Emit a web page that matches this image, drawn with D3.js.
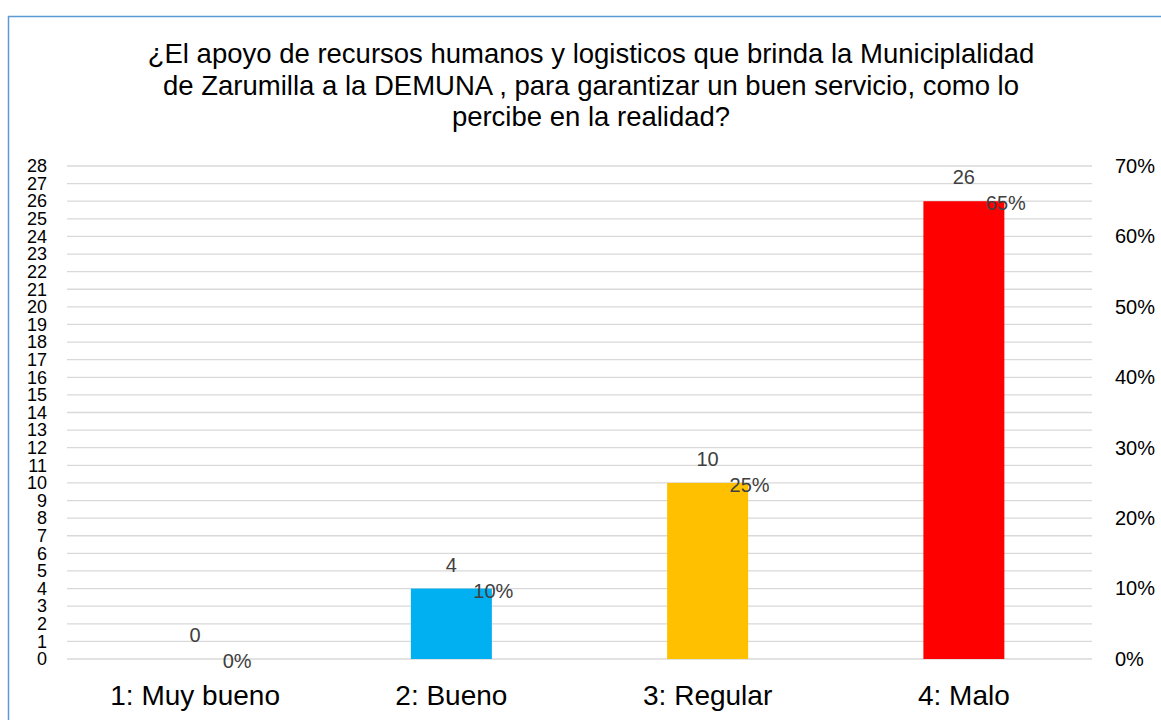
<!DOCTYPE html>
<html>
<head>
<meta charset="utf-8">
<script src="https://cdn.jsdelivr.net/npm/d3@7"></script>
<style>
  body { margin: 0; background: #fff; }
  text { font-family: "Liberation Sans", Arial, sans-serif; }
</style>
</head>
<body>
<div id="chart"></div>
<script>
var categories = ["1: Muy bueno", "2: Bueno", "3: Regular", "4: Malo"],
    counts = [0, 4, 10, 26],
    percents = [0, 0.10, 0.25, 0.65],
    barColors = ["#00b0f0", "#00b0f0", "#ffc000", "#ff0000"],
    titleLines = [
        "¿El apoyo de recursos humanos y logisticos que brinda la Municiplalidad",
        "de Zarumilla a la DEMUNA , para garantizar un buen servicio, como lo",
        "percibe en la realidad?"
    ];

var width = 1161, height = 720,
    plotLeft = 67, plotRight = 1092, plotTop = 166, plotBottom = 659;

var svg = d3.select("#chart")
    .append("svg")
        .attr("width", width)
        .attr("height", height);

// outer chart border
svg.append("rect")
    .attr("x", 8.5).attr("y", 16.5)
    .attr("width", 1170).attr("height", 730)
    .attr("fill", "none")
    .attr("stroke", "#5b9bd5")
    .attr("stroke-width", 1.5);

svg.append("g")
    .selectAll("text")
    .data(titleLines)
  .enter().append("text")
    .attr("x", 591)
    .attr("y", (d, i) => 63 + i * 31.5)
    .attr("text-anchor", "middle")
    .attr("font-size", 27.5)
    .attr("fill", "#000")
    .text(d => d);

var x = d3.scaleBand()
        .domain(categories)
        .range([plotLeft, plotRight])
        .paddingInner(0).paddingOuter(0),
    y = d3.scaleLinear().domain([0, 28]).range([plotBottom, plotTop]),
    y2 = d3.scaleLinear().domain([0, 0.7]).range([plotBottom, plotTop]);

// gridlines
svg.append("g")
    .selectAll("line")
    .data(d3.range(0, 29))
  .enter().append("line")
    .attr("x1", plotLeft).attr("x2", plotRight)
    .attr("y1", d => y(d)).attr("y2", d => y(d))
    .attr("stroke", "#d9d9d9")
    .attr("stroke-width", 1.3);

var yAxis = svg.append("g")
    .attr("transform", `translate(${plotLeft - 20},0)`)
    .call(d3.axisLeft(y).tickValues(d3.range(0, 29)).tickSize(0).tickPadding(0));
yAxis.select(".domain").remove();
yAxis.selectAll("text")
    .attr("font-size", 18)
    .attr("fill", "#000")
    .style("font-family", "Liberation Sans, Arial, sans-serif");

var yAxis2 = svg.append("g")
    .attr("transform", `translate(${plotRight + 23},0)`)
    .call(d3.axisRight(y2).tickValues(d3.range(0, 0.71, 0.1)).tickFormat(d3.format(".0%")).tickSize(0).tickPadding(0));
yAxis2.select(".domain").remove();
yAxis2.selectAll("text")
    .attr("font-size", 20)
    .attr("fill", "#000")
    .style("font-family", "Liberation Sans, Arial, sans-serif");

var barW = x.bandwidth() * 0.316;

svg.append("g")
    .selectAll("rect")
    .data(counts)
  .enter().append("rect")
    .attr("x", (d, i) => x(categories[i]) + x.bandwidth() / 2 - barW / 2)
    .attr("y", d => y(d))
    .attr("width", barW)
    .attr("height", d => plotBottom - y(d))
    .attr("fill", (d, i) => barColors[i]);

// count labels
svg.append("g")
    .selectAll("text")
    .data(counts)
  .enter().append("text")
    .attr("x", (d, i) => x(categories[i]) + x.bandwidth() / 2)
    .attr("y", d => y(d) - 17)
    .attr("text-anchor", "middle")
    .attr("font-size", 20)
    .attr("fill", "#404040")
    .text(d => d);

// percentage labels
svg.append("g")
    .selectAll("text")
    .data(percents)
  .enter().append("text")
    .attr("x", (d, i) => x(categories[i]) + x.bandwidth() / 2 + 42)
    .attr("y", d => y2(d) + 9)
    .attr("text-anchor", "middle")
    .attr("font-size", 20)
    .attr("fill", "#404040")
    .text(d => d3.format(".0%")(d));

// category labels
svg.append("g")
    .selectAll("text")
    .data(categories)
  .enter().append("text")
    .attr("x", d => x(d) + x.bandwidth() / 2)
    .attr("y", 705)
    .attr("text-anchor", "middle")
    .attr("font-size", 28)
    .attr("fill", "#000")
    .text(d => d);
</script>
</body>
</html>
